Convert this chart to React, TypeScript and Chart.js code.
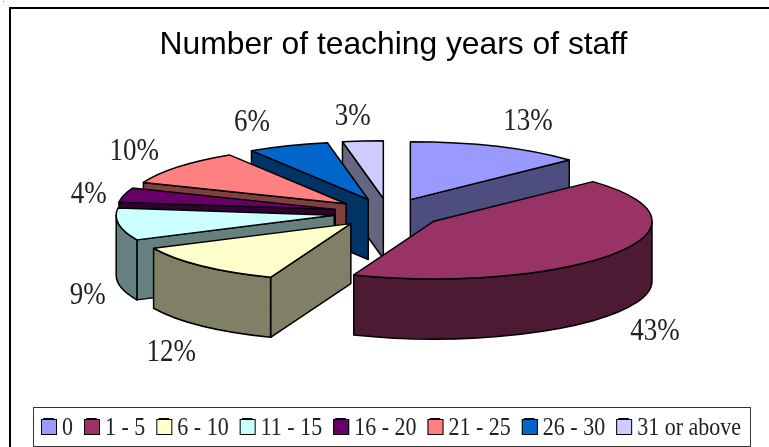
import { useEffect, useRef } from "react";
import { Chart, registerables } from "chart.js";

Chart.register(...registerables);

const categories = ["0", "1 - 5", "6 - 10", "11 - 15", "16 - 20", "21 - 25", "26 - 30", "31 or above"];
const percentages = [13, 43, 12, 9, 4, 10, 6, 3];
const topColors = ["#9999FF", "#993366", "#FFFFCC", "#CCFFFF", "#660066", "#FF8080", "#0066CC", "#CCCCFF"];
const sideColors = ["#4D4D80", "#4D1A33", "#808066", "#668080", "#330033", "#804040", "#003366", "#666680"];
const paintOrder = [7, 0, 6, 5, 4, 3, 2, 1];
const labelReach = [355, 324, 315, 303, 308, 328, 367, 364];
const labelDrop = [-5, 71, 79, 70, 2, -6, 0, 0];

const TILT = 0.265;
const DEPTH = 60;
const EXPLODE = 55;
const RADIUS = 218;
const CENTER_X = 388.5;
const CENTER_Y = 213;
const LABEL_CENTER_X = 387;
const LABEL_CENTER_Y = 212.5;
const SERIF = "'Liberation Serif', serif";
const TEXT = "#222";
const LEGEND_NUDGE_X = -2.5;
const LEGEND_NUDGE_Y = 1;

const pie3d = {
  id: "pie3d",
  beforeDraw(chart: any) {
    const { ctx, width, height } = chart;
    ctx.save();
    ctx.fillStyle = "#fff";
    ctx.fillRect(0, 0, width, height);
    ctx.fillStyle = "#777";
    ctx.fillRect(3, 1, 1, 1);
    ctx.strokeStyle = "#000";
    ctx.lineWidth = 2;
    ctx.beginPath();
    ctx.moveTo(width, 8);
    ctx.lineTo(10, 8);
    ctx.lineTo(10, height);
    ctx.stroke();
    ctx.restore();
  },
  beforeDatasetDraw(chart: any, args: any) {
    const { ctx } = chart;
    const arcs = args.meta.data;
    ctx.save();
    ctx.lineJoin = "round";
    ctx.strokeStyle = "#000";
    ctx.lineWidth = 1.5;
    for (const i of paintOrder) {
      const arc = arcs[i];
      const { startAngle: a0, endAngle: a1, outerRadius: r } = arc.getProps(["startAngle", "endAngle", "outerRadius"], true);
      const mid = (a0 + a1) / 2;
      const x = CENTER_X + EXPLODE * Math.cos(mid);
      const y = CENTER_Y + EXPLODE * TILT * Math.sin(mid);
      const ry = r * TILT;
      const at = (a: number, dz = 0): [number, number] => [x + r * Math.cos(a), y + ry * Math.sin(a) + dz];
      const fillPath = (color: string, build: () => void) => {
        ctx.beginPath();
        build();
        ctx.closePath();
        ctx.fillStyle = color;
        ctx.fill();
        ctx.stroke();
      };
      const radialWall = (a: number) =>
        fillPath(sideColors[i], () => {
          ctx.moveTo(x, y);
          ctx.lineTo(...at(a));
          ctx.lineTo(...at(a, DEPTH));
          ctx.lineTo(x, y + DEPTH);
        });
      // a radial wall is painted only if it faces the viewer
      if (Math.cos(a1) > 0.001) radialWall(a1);
      if (Math.cos(a0) < -0.001) radialWall(a0);
      // the visible part of the rim lies between 0 and PI in canvas angles
      const TAU = Math.PI * 2;
      let start = ((a0 % TAU) + TAU) % TAU;
      if (start > Math.PI) start -= TAU;
      const lo = Math.max(start, 0);
      const hi = Math.min(start + (a1 - a0), Math.PI);
      if (hi > lo) {
        fillPath(sideColors[i], () => {
          ctx.ellipse(x, y, r, ry, 0, lo, hi);
          ctx.ellipse(x, y + DEPTH, r, ry, 0, hi, lo, true);
        });
      }
      fillPath(topColors[i], () => {
        ctx.moveTo(x, y);
        ctx.ellipse(x, y, r, ry, 0, a0, a1);
      });
    }
    // percentage labels
    ctx.fillStyle = TEXT;
    ctx.font = `27px ${SERIF}`;
    ctx.textAlign = "center";
    ctx.textBaseline = "middle";
    arcs.forEach((arc: any, i: number) => {
      const { startAngle: a0, endAngle: a1 } = arc.getProps(["startAngle", "endAngle"], true);
      const mid = (a0 + a1) / 2;
      ctx.save();
      ctx.translate(
        LABEL_CENTER_X + labelReach[i] * Math.cos(mid),
        LABEL_CENTER_Y + labelReach[i] * TILT * Math.sin(mid) + labelDrop[i]
      );
      ctx.scale(1, 1.2);
      ctx.fillText(`${percentages[i]}%`, 0, 0);
      ctx.restore();
    });
    ctx.restore();
    return false;
  },
  afterDraw(chart: any) {
    const { ctx, legend } = chart;
    const hits = legend.legendHitBoxes;
    const items = legend.legendItems;
    const first = hits[0];
    const last = hits[hits.length - 1];
    const midY = first.top + first.height / 2 + LEGEND_NUDGE_Y;
    ctx.save();
    ctx.strokeStyle = "#333";
    ctx.lineWidth = 1;
    ctx.strokeRect(
      Math.round(first.left + LEGEND_NUDGE_X - 8) + 0.5,
      Math.round(midY - 20) + 0.5,
      Math.round(last.left + last.width - first.left + 17),
      39
    );
    ctx.font = `22px ${SERIF}`;
    ctx.textBaseline = "middle";
    ctx.textAlign = "left";
    hits.forEach((h: any, i: number) => {
      const left = h.left + LEGEND_NUDGE_X;
      ctx.fillStyle = items[i].fillStyle;
      ctx.strokeStyle = "#000";
      ctx.fillRect(left, midY - 8, 16, 16);
      ctx.strokeRect(left + 0.5, midY - 7.5, 15, 15);
      ctx.save();
      ctx.translate(left + 21, midY + 1);
      ctx.scale(1, 1.14);
      ctx.fillStyle = TEXT;
      ctx.fillText(items[i].text, 0, 0);
      ctx.restore();
    });
    ctx.restore();
  },
};

export default function App() {
  const ref = useRef<HTMLCanvasElement>(null);
  useEffect(() => {
    const chart = new Chart(ref.current!, {
      type: "pie",
      data: {
        labels: categories,
        datasets: [{ data: percentages, backgroundColor: topColors, borderColor: "#000", borderWidth: 1 }],
      },
      options: {
        responsive: false,
        animation: false,
        radius: RADIUS,
        layout: { padding: { left: 18, right: 0, top: 26, bottom: 0 } },
        plugins: {
          tooltip: { enabled: false },
          title: {
            display: true,
            text: "Number of teaching years of staff",
            color: "#000",
            font: { family: "'Liberation Sans', sans-serif", size: 31.8, weight: "normal" },
            padding: 0,
          },
          legend: {
            position: "bottom",
            labels: {
              boxWidth: 10,
              boxHeight: 15,
              padding: 11,
              color: "rgba(0,0,0,0)",
              font: { family: SERIF, size: 22 },
            },
          },
        },
      } as any,
      plugins: [pie3d],
    });
    return () => chart.destroy();
  }, []);
  return <canvas ref={ref} width={769} height={447} style={{ position: "absolute", left: 0, top: 0, display: "block" }} />;
}
